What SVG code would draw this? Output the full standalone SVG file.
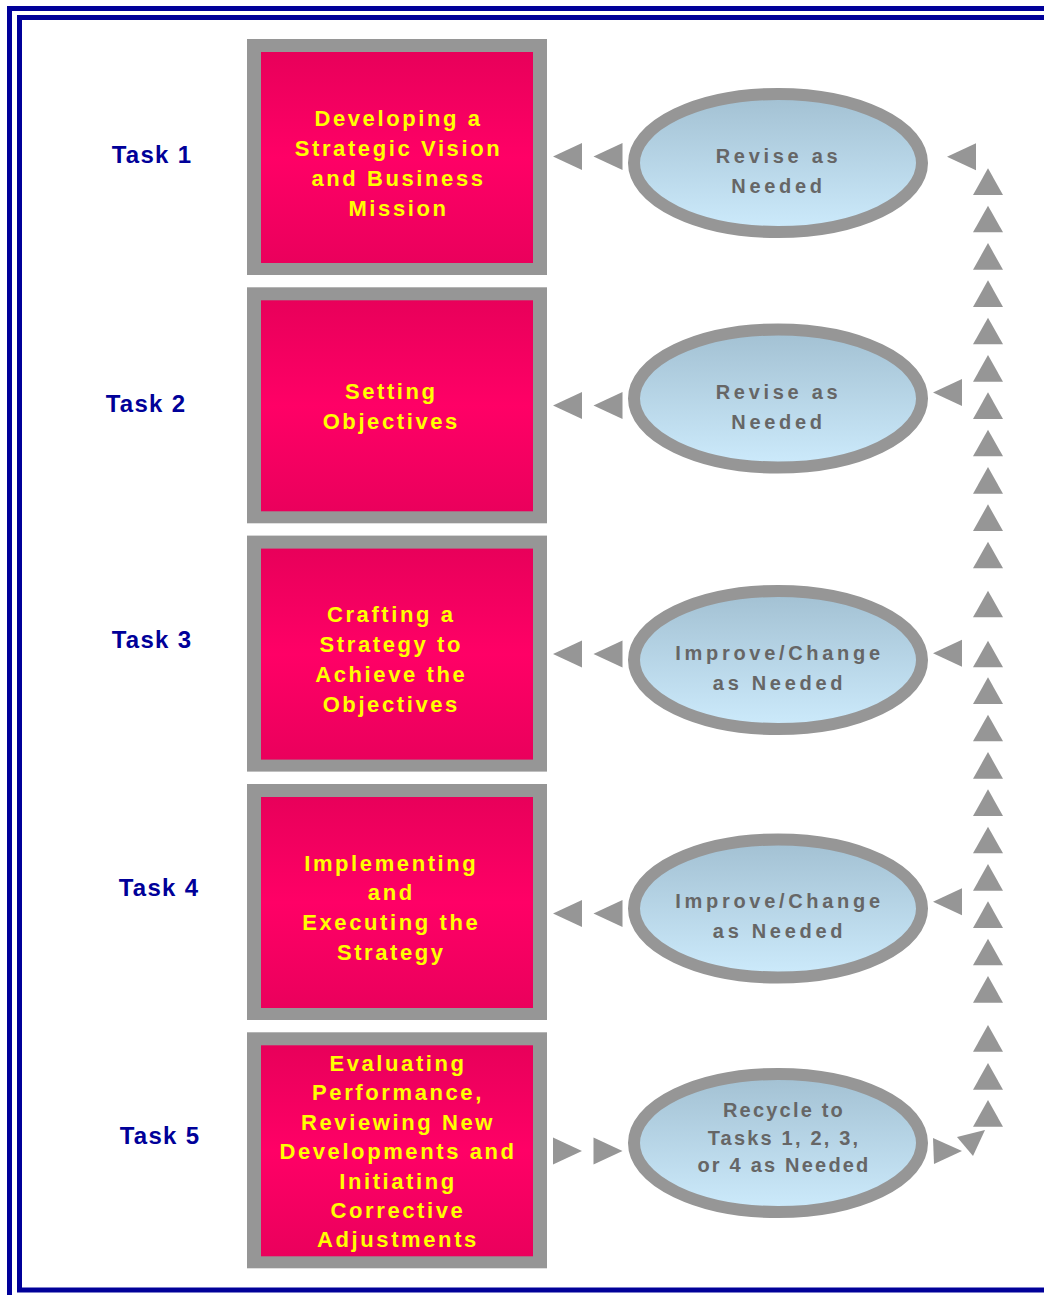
<svg xmlns="http://www.w3.org/2000/svg" xmlns:xlink="http://www.w3.org/1999/xlink" width="1044" height="1295" viewBox="0 0 1044 1295">
<defs>
<linearGradient id="pinkG" x1="0" y1="0" x2="0" y2="1">
<stop offset="0" stop-color="#E8005A"/>
<stop offset="0.5" stop-color="#FF0066"/>
<stop offset="1" stop-color="#EA005C"/>
</linearGradient>
<linearGradient id="blueG" x1="0" y1="0" x2="0" y2="1">
<stop offset="0" stop-color="#A2C0D2"/>
<stop offset="1" stop-color="#CDEBFC"/>
</linearGradient>
<polygon id="up" points="-15,13.35 0,-13.35 15,13.35"/>
<polygon id="lt" points="-14.5,0 14.5,-13.5 14.5,13.5"/>
<polygon id="rt" points="14.5,0 -14.5,-13.5 -14.5,13.5"/>
</defs>
<style>
.frame{fill:none;stroke:#000099;stroke-width:5}
.boxO{fill:#969696}
.boxI{fill:url(#pinkG)}
.ell{fill:url(#blueG);stroke:#969696;stroke-width:12}
.bt{font-family:"Liberation Sans",Arial,sans-serif;font-weight:bold;font-size:22px;letter-spacing:2.6px;fill:#FFFF00;text-anchor:middle}
.et{font-family:"Liberation Sans",Arial,sans-serif;font-weight:bold;font-size:20px;letter-spacing:3.7px;fill:#666666;text-anchor:middle}
.et5{letter-spacing:2.2px}
.tt{font-family:"Liberation Sans",Arial,sans-serif;font-weight:bold;font-size:24px;letter-spacing:1.3px;fill:#000099;text-anchor:middle}
.tri{fill:#969696}
</style>
<rect width="1044" height="1295" fill="#FFFFFF"/>
<rect class="frame" x="9.5" y="8.5" width="1100" height="1320"/>
<rect class="frame" x="19.5" y="17.5" width="1100" height="1272.5"/>

<g id="task1">
<text class="tt" x="152" y="163">Task 1</text>
</g>
<g id="task2">
<text class="tt" x="146" y="412">Task 2</text>
</g>
<g id="task3">
<text class="tt" x="152" y="648">Task 3</text>
</g>
<g id="task4">
<text class="tt" x="159" y="896">Task 4</text>
</g>
<g id="task5">
<text class="tt" x="160" y="1144">Task 5</text>
</g>

<g id="box1">
<rect class="boxO" x="247" y="39" width="300" height="236"/>
<rect class="boxI" x="261" y="52" width="272" height="211"/>
<text class="bt" x="398.5" y="126">Developing a</text>
<text class="bt" x="398.5" y="156">Strategic Vision</text>
<text class="bt" x="398.5" y="186">and Business</text>
<text class="bt" x="398.5" y="216">Mission</text>
</g>
<g id="box2">
<rect class="boxO" x="247" y="287.3" width="300" height="236"/>
<rect class="boxI" x="261" y="300.3" width="272" height="211"/>
<text class="bt" x="391.3" y="399">Setting</text>
<text class="bt" x="391.3" y="429">Objectives</text>
</g>
<g id="box3">
<rect class="boxO" x="247" y="535.6" width="300" height="236"/>
<rect class="boxI" x="261" y="548.6" width="272" height="211"/>
<text class="bt" x="391.3" y="622">Crafting a</text>
<text class="bt" x="391.3" y="652">Strategy to</text>
<text class="bt" x="391.3" y="682">Achieve the</text>
<text class="bt" x="391.3" y="712">Objectives</text>
</g>
<g id="box4">
<rect class="boxO" x="247" y="784" width="300" height="236"/>
<rect class="boxI" x="261" y="797" width="272" height="211"/>
<text class="bt" x="391.3" y="871">Implementing</text>
<text class="bt" x="391.3" y="900">and</text>
<text class="bt" x="391.3" y="930">Executing the</text>
<text class="bt" x="391.3" y="960">Strategy</text>
</g>
<g id="box5">
<rect class="boxO" x="247" y="1032.3" width="300" height="236"/>
<rect class="boxI" x="261" y="1045.3" width="272" height="211"/>
<text class="bt" x="398" y="1071">Evaluating</text>
<text class="bt" x="398" y="1100">Performance,</text>
<text class="bt" x="398" y="1130">Reviewing New</text>
<text class="bt" x="398" y="1159">Developments and</text>
<text class="bt" x="398" y="1189">Initiating</text>
<text class="bt" x="398" y="1218">Corrective</text>
<text class="bt" x="398" y="1247">Adjustments</text>
</g>

<g id="ellipse1">
<ellipse class="ell" cx="778" cy="163" rx="144" ry="69"/>
<text class="et" x="778.5" y="163">Revise as</text>
<text class="et" x="778.5" y="193">Needed</text>
</g>
<g id="ellipse2">
<ellipse class="ell" cx="778" cy="398.5" rx="144" ry="69"/>
<text class="et" x="778.5" y="399">Revise as</text>
<text class="et" x="778.5" y="429">Needed</text>
</g>
<g id="ellipse3">
<ellipse class="ell" cx="778" cy="660" rx="144" ry="69"/>
<text class="et" x="779.5" y="660">Improve/Change</text>
<text class="et" x="779.5" y="690">as Needed</text>
</g>
<g id="ellipse4">
<ellipse class="ell" cx="778" cy="908.5" rx="144" ry="69"/>
<text class="et" x="779.5" y="908">Improve/Change</text>
<text class="et" x="779.5" y="938">as Needed</text>
</g>
<g id="ellipse5">
<ellipse class="ell" cx="778" cy="1143" rx="144" ry="69"/>
<text class="et et5" x="784" y="1117">Recycle to</text>
<text class="et et5" x="784" y="1145">Tasks 1, 2, 3,</text>
<text class="et et5" x="784" y="1172">or 4 as Needed</text>
</g>

<g id="connectors" class="tri">
<use xlink:href="#lt" x="567.5" y="156.5"/>
<use xlink:href="#lt" x="608" y="156.5"/>
<use xlink:href="#lt" x="567.5" y="405.5"/>
<use xlink:href="#lt" x="608" y="405.5"/>
<use xlink:href="#lt" x="567.5" y="654"/>
<use xlink:href="#lt" x="608" y="654"/>
<use xlink:href="#lt" x="567.5" y="913.5"/>
<use xlink:href="#lt" x="608" y="913.5"/>
<use xlink:href="#rt" x="567.5" y="1151"/>
<use xlink:href="#rt" x="608" y="1151"/>

<use xlink:href="#lt" x="961.5" y="156.7"/>
<use xlink:href="#lt" x="947.5" y="392.5"/>
<use xlink:href="#lt" x="947.5" y="653.3"/>
<use xlink:href="#lt" x="947.5" y="901.7"/>
<polygon points="933,1138 962,1151 934,1164"/>
<polygon points="957,1137 985,1130 973,1156"/>

<use xlink:href="#up" x="988" y="181.7"/>
<use xlink:href="#up" x="988" y="219"/>
<use xlink:href="#up" x="988" y="256.4"/>
<use xlink:href="#up" x="988" y="293.7"/>
<use xlink:href="#up" x="988" y="331"/>
<use xlink:href="#up" x="988" y="368.4"/>
<use xlink:href="#up" x="988" y="405.7"/>
<use xlink:href="#up" x="988" y="443"/>
<use xlink:href="#up" x="988" y="480.4"/>
<use xlink:href="#up" x="988" y="517.7"/>
<use xlink:href="#up" x="988" y="555"/>
<use xlink:href="#up" x="988" y="604"/>
<use xlink:href="#up" x="988" y="654"/>
<use xlink:href="#up" x="988" y="690.7"/>
<use xlink:href="#up" x="988" y="728"/>
<use xlink:href="#up" x="988" y="765.4"/>
<use xlink:href="#up" x="988" y="802.7"/>
<use xlink:href="#up" x="988" y="840"/>
<use xlink:href="#up" x="988" y="877.4"/>
<use xlink:href="#up" x="988" y="914.7"/>
<use xlink:href="#up" x="988" y="952"/>
<use xlink:href="#up" x="988" y="989.4"/>
<use xlink:href="#up" x="988" y="1038.4"/>
<use xlink:href="#up" x="988" y="1076.4"/>
<use xlink:href="#up" x="988" y="1113.4"/>
</g>
</svg>
